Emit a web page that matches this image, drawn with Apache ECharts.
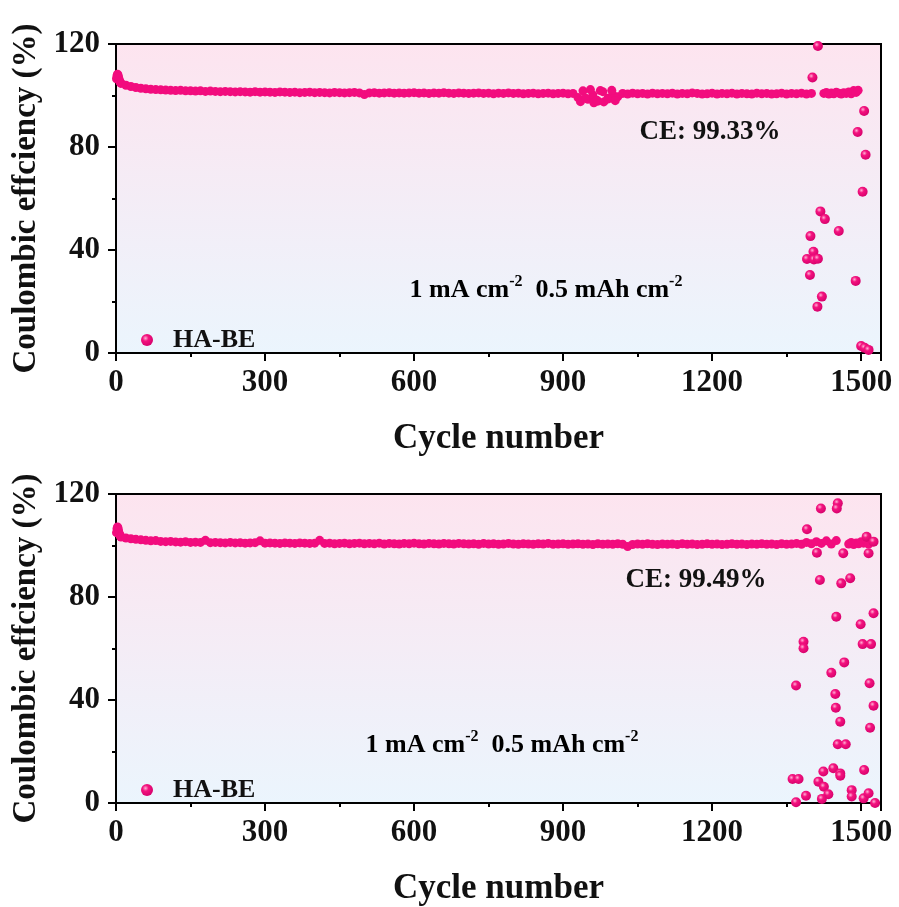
<!DOCTYPE html>
<html>
<head>
<meta charset="utf-8">
<title>Coulombic efficiency – HA-BE</title>
<script src="https://cdn.jsdelivr.net/npm/echarts@6/dist/echarts.min.js"></script>
<style>
  html, body { margin: 0; padding: 0; background: #fff; }
  #chart { width: 899px; height: 907px; }
</style>
</head>
<body>
<div id="chart"></div>
<script>
// ---------- Cell 1 (upper panel) ----------
// cycles 1..9
const earlyA = [106.5, 107.6, 108.3, 108.0, 107.2, 106.4, 105.8, 105.3, 105.0];
// cycles 10..1400, one reading every 10 cycles
const bandStepA = 10;
const bandA = [
  104.7, 104.0, 103.5, 103.1, 102.8, 102.6, 102.4, 102.3, 102.2, 102.1,
  102.0, 101.9, 102.0, 101.8, 101.8, 101.7, 101.8, 101.6, 101.7, 101.6,
  101.5, 101.6, 101.5, 101.4, 101.5, 101.4, 101.3, 101.5, 101.3, 101.4,
  101.3, 101.2, 101.4, 101.3, 101.2, 101.3, 101.1, 101.2, 101.3, 101.1,
  101.2, 101.1, 101.0, 101.2, 101.1, 101.0, 101.1, 101.2, 101.0, 100.4,
  101.0, 101.1, 100.9, 101.0, 101.1, 100.9, 101.0, 100.9, 101.0, 101.1,
  100.9, 101.0, 100.8, 101.0, 100.9, 101.1, 100.9, 100.8, 101.0, 100.9,
  100.8, 100.9, 101.0, 100.8, 100.9, 100.7, 100.9, 100.8, 101.0, 100.8,
  100.9, 100.7, 100.8, 100.9, 100.7, 100.8, 100.9, 100.7, 100.8, 100.9,
  100.7, 100.8, 99.2, 101.8, 98.5, 100.2, 97.8, 101.5, 98.9, 100.3,
  99.5, 100.8, 100.6, 100.9, 100.7, 100.8, 100.6, 100.9, 100.7, 100.8,
  100.7, 100.9, 100.6, 100.8, 100.7, 101.0, 100.8, 100.6, 100.7, 100.9,
  100.6, 100.8, 100.7, 100.9, 100.6, 100.8, 100.7, 100.6, 100.9, 100.7,
  100.8, 100.6, 100.7, 100.9, 100.6, 100.8, 100.7, 100.9, 100.6, 100.8
];
// scattered readings around cycles 930-1010
const wobbleA = [
  [935, 97.6], [945, 99.0], [955, 102.3], [962, 97.2], [968, 98.2],
  [975, 101.9], [982, 97.5], [990, 98.6], [998, 102.0], [1005, 98.0]
];
// stable stretch after the first failure
const lateBandA = [
  [1425, 100.8], [1430, 101.2], [1435, 100.6], [1440, 101.0], [1445, 100.7],
  [1450, 101.3], [1455, 100.9], [1460, 100.6], [1465, 101.1], [1470, 100.8],
  [1475, 101.4], [1480, 100.7], [1485, 101.9], [1490, 101.2], [1494, 102.0]
];
// unstable cycles near the end of life
const outliersA = [
  [1413, 119.2], [1402, 107.0], [1506, 94.0], [1493, 85.8], [1509, 77.0],
  [1503, 62.6], [1418, 55.0], [1427, 52.0], [1455, 47.4], [1398, 45.4],
  [1404, 39.3], [1391, 36.5], [1405, 36.3], [1413, 36.6], [1397, 30.3],
  [1489, 28.0], [1421, 21.9], [1412, 18.0], [1500, 2.7], [1507, 2.0], [1515, 1.2]
];

// ---------- Cell 2 (lower panel) ----------
const earlyB = [105.0, 106.5, 107.2, 106.8, 105.9, 105.0, 104.4, 104.0, 103.6];
const bandStepB = 10;
// cycles 10..1450
const bandB = [
  103.3, 102.9, 102.6, 102.4, 102.2, 102.0, 101.8, 101.9, 101.6, 101.5,
  101.6, 101.4, 101.3, 101.5, 101.2, 101.3, 101.2, 102.0, 101.1, 101.2,
  101.1, 101.0, 101.2, 101.0, 101.1, 100.9, 101.0, 101.1, 101.8, 100.9,
  101.0, 100.9, 100.8, 101.0, 100.9, 100.8, 101.0, 100.9, 100.8, 100.9,
  102.0, 100.8, 100.9, 100.7, 100.8, 100.9, 100.7, 100.8, 100.9, 100.7,
  100.8, 100.7, 100.9, 100.6, 100.8, 100.7, 100.6, 100.8, 100.7, 100.9,
  100.7, 100.6, 100.8, 100.7, 100.6, 100.8, 100.7, 100.6, 100.8, 100.7,
  100.6, 100.7, 100.5, 100.8, 100.6, 100.7, 100.5, 100.6, 100.8, 100.6,
  100.5, 100.7, 100.6, 100.5, 100.7, 100.6, 100.8, 100.5, 100.6, 100.7,
  100.5, 100.6, 100.7, 100.5, 100.6, 100.4, 100.7, 100.5, 100.6, 100.5,
  100.7, 100.5, 99.6, 100.4, 100.6, 100.5, 100.7, 100.5, 100.4, 100.6,
  100.5, 100.6, 100.4, 100.7, 100.5, 100.6, 100.4, 100.5, 100.7, 100.5,
  100.6, 100.4, 100.5, 100.7, 100.5, 100.6, 100.4, 100.6, 100.5, 100.7,
  100.5, 100.6, 100.4, 100.7, 100.5, 100.6, 100.8, 100.5, 101.2, 100.7,
  101.5, 100.8, 101.8, 100.6, 101.9
];
const lateBandB = [
  [1475, 100.6], [1480, 101.2], [1485, 100.4], [1490, 101.0], [1495, 100.7],
  [1500, 101.5], [1505, 100.9], [1510, 102.0], [1515, 100.6], [1520, 101.3]
];
const outliersB = [
  [1419, 114.4], [1453, 116.4], [1451, 114.4], [1391, 106.3], [1411, 97.2],
  [1464, 97.0], [1515, 97.0], [1511, 103.4], [1525, 101.5], [1417, 86.6],
  [1460, 85.3], [1478, 87.3], [1450, 72.3], [1499, 69.4], [1525, 73.7],
  [1384, 62.6], [1384, 60.1], [1503, 61.7], [1520, 61.7], [1466, 54.6],
  [1440, 50.6], [1369, 45.6], [1517, 46.5], [1448, 42.3], [1449, 37.0],
  [1525, 37.8], [1458, 31.6], [1518, 29.2], [1453, 22.8], [1469, 22.8],
  [1362, 9.3], [1374, 9.3], [1424, 12.2], [1444, 13.5], [1458, 11.5],
  [1458, 10.6], [1506, 12.8], [1414, 8.3], [1425, 6.3], [1389, 2.8],
  [1434, 3.4], [1421, 1.6], [1369, 0.3], [1481, 5.0], [1481, 2.5],
  [1505, 1.8], [1515, 3.8], [1528, 0.0]
];

// ---------- axes / labels ----------
const xTicks = [0, 300, 600, 900, 1200, 1500];
const yTicks = [0, 40, 80, 120];
const seriesName = 'HA-BE';
const ceLabels = ['CE: 99.33%', 'CE: 99.49%'];

// steady cycles: early readings + regular band + stable tail
function steady(early, band, step, tail) {
  const pts = early.map((v, i) => [i + 1, v]);
  band.forEach((v, i) => pts.push([(i + 1) * step, v]));
  tail.forEach(p => pts.push(p));
  return pts;
}

const steadyA = steady(earlyA, bandA, bandStepA, lateBandA).concat(wobbleA);
const steadyB = steady(earlyB, bandB, bandStepB, lateBandB);

const FONT = "'Liberation Serif', 'Times New Roman', serif";
const INK = '#111';

// glossy bead for individual points
const ball = {
  type: 'radial', x: 0.38, y: 0.35, r: 0.7,
  colorStops: [
    { offset: 0, color: '#ffb0d4' },
    { offset: 0.35, color: '#f4137f' },
    { offset: 1, color: '#d4006b' }
  ]
};
// densely packed beads read as a solid strip
const bandFill = '#f20c7e';

const panelBg = {
  type: 'linear', x: 0, y: 0, x2: 0, y2: 1,
  colorStops: [
    { offset: 0, color: '#fde4ef' },
    { offset: 1, color: '#ebf5fd' }
  ]
};

function grid(top) {
  return {
    left: 116, top: top, width: 765, height: 309,
    show: true, backgroundColor: panelBg, borderColor: '#000', borderWidth: 2
  };
}

function xAxis(idx) {
  return {
    type: 'value', gridIndex: idx, min: 0, max: 1540, interval: 300,
    name: 'Cycle number', nameLocation: 'middle', nameGap: 68,
    nameTextStyle: { fontFamily: FONT, fontWeight: 'bold', fontSize: 35, color: INK },
    axisLine: { show: true, lineStyle: { color: '#000', width: 2 } },
    axisTick: { show: true, length: 8, lineStyle: { color: '#000', width: 2 } },
    minorTick: { show: true, splitNumber: 2, length: 4, lineStyle: { color: '#000', width: 2 } },
    splitLine: { show: false },
    axisLabel: {
      fontFamily: FONT, fontWeight: 'bold', fontSize: 31, color: INK, margin: 14,
      showMaxLabel: false,
      formatter: v => (xTicks.indexOf(v) >= 0 ? String(v) : '')
    }
  };
}

function yAxis(idx) {
  return {
    type: 'value', gridIndex: idx, min: 0, max: 120, interval: 40,
    name: 'Coulombic effciency (%)', nameLocation: 'middle', nameGap: 70,
    nameTextStyle: { fontFamily: FONT, fontWeight: 'bold', fontSize: 33, color: INK },
    axisLine: { show: true, lineStyle: { color: '#000', width: 2 } },
    axisTick: { show: true, length: 8, lineStyle: { color: '#000', width: 2 } },
    minorTick: { show: true, splitNumber: 2, length: 4, lineStyle: { color: '#000', width: 2 } },
    splitLine: { show: false },
    axisLabel: {
      fontFamily: FONT, fontWeight: 'bold', fontSize: 31, color: INK, margin: 16,
      formatter: v => (yTicks.indexOf(v) >= 0 ? String(v) : '')
    }
  };
}

function legend(top) {
  return {
    data: [seriesName], left: 136, top: top, orient: 'vertical',
    icon: 'circle', itemWidth: 12, itemHeight: 12,
    selectedMode: false,
    textStyle: { fontFamily: FONT, fontWeight: 'bold', fontSize: 26, color: INK, padding: [0, 0, 0, 15] }
  };
}

function scatter(idx, data, fill, size, z) {
  return {
    name: seriesName, type: 'scatter', xAxisIndex: idx, yAxisIndex: idx,
    symbol: 'circle', symbolSize: size, data: data, z: z,
    itemStyle: { color: fill, opacity: 1 },
    emphasis: { disabled: true }
  };
}

const noteRich = {
  n: { fontFamily: FONT, fontWeight: 'bold', fontSize: 26, color: INK, lineHeight: 32 },
  s: { fontFamily: FONT, fontWeight: 'bold', fontSize: 16, color: INK, lineHeight: 32, verticalAlign: 'top', padding: [0, 0, 13, 0] }
};
const noteText = '{n|1 mA cm}{s|-2}{n|  0.5 mAh cm}{s|-2}';

function ceText(x, y, txt) {
  return {
    type: 'text', x: x, y: y, z: 10,
    style: { text: txt, fontFamily: FONT, fontWeight: 'bold', fontSize: 27, fill: INK, align: 'center', verticalAlign: 'middle' }
  };
}
function noteGraphic(x, y) {
  return {
    type: 'text', x: x, y: y, z: 10,
    style: { text: noteText, rich: noteRich, align: 'center', verticalAlign: 'middle' }
  };
}

const chart = echarts.init(document.getElementById('chart'), null, { renderer: 'canvas' });
chart.setOption({
  backgroundColor: '#fff',
  animation: false,
  grid: [grid(44), grid(494)],
  xAxis: [xAxis(0), xAxis(1)],
  yAxis: [yAxis(0), yAxis(1)],
  legend: [legend(322), legend(772)],
  series: [
    scatter(0, outliersA, ball, 10, 3),
    scatter(0, steadyA, bandFill, 9, 2),
    scatter(1, outliersB, ball, 10, 3),
    scatter(1, steadyB, bandFill, 9, 2)
  ],
  graphic: [
    ceText(710, 132, ceLabels[0]),
    ceText(696, 580, ceLabels[1]),
    noteGraphic(546, 290),
    noteGraphic(502, 745)
  ]
});
</script>
</body>
</html>
